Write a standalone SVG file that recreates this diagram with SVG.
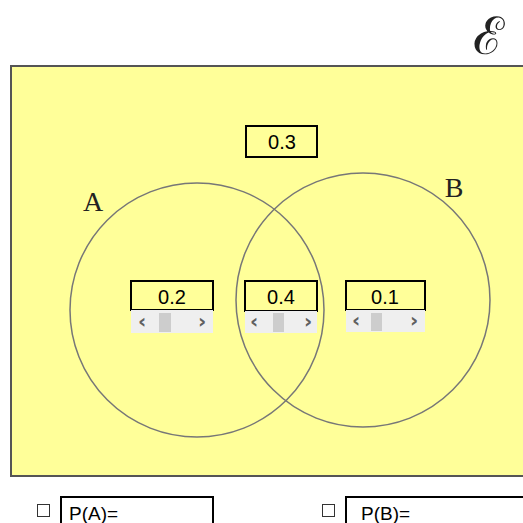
<svg xmlns="http://www.w3.org/2000/svg" width="523" height="523" viewBox="0 0 523 523">
<style>
.box{fill:#ffff99;stroke:#000;stroke-width:2}
.num{font-family:"Liberation Sans",Arial,sans-serif;font-size:20px;fill:#000;text-anchor:middle}
.sb{fill:#efefef}
.th{fill:#cdcdcd}
.ar{font-family:"DejaVu Sans",sans-serif;font-size:20px;fill:#606060;text-anchor:middle;font-weight:bold}
.circ{fill:none;stroke:#777;stroke-width:1.5}
.lbl{font-family:"Liberation Serif","Times New Roman",serif;font-size:28px;fill:#222}
.cb{fill:#fff;stroke:#333;stroke-width:1}
.pbox{fill:#fff;stroke:#000;stroke-width:2}
.ptxt{font-family:"Liberation Sans",Arial,sans-serif;font-size:19px;fill:#000}
</style>
<rect width="523" height="523" fill="#fff"/>
<text x="488" y="54" font-family="DejaVu Serif, serif" font-size="52" fill="#222" text-anchor="middle">ℰ</text>
<rect x="11" y="66" width="520" height="410" fill="#ffff99" stroke="#555" stroke-width="2"/>
<g id="circles">
<circle id="circleA" class="circ" cx="197" cy="310" r="127"/>
<circle id="circleB" class="circ" cx="363" cy="300" r="127"/>
</g>
<g id="labelA"><text class="lbl" x="93" y="211" text-anchor="middle">A</text></g>
<g id="labelB"><text class="lbl" x="454" y="197" text-anchor="middle">B</text></g>
<g id="outside">
<rect class="box" x="246" y="126" width="71" height="31"/>
<text class="num" x="282" y="149">0.3</text>
</g>
<g id="onlyA">
<rect class="box" x="131" y="281" width="82" height="29"/>
<text class="num" x="172" y="304">0.2</text>
<rect class="sb" x="131" y="310" width="82" height="23"/>
<rect class="th" x="159" y="313" width="12" height="19"/>
<text class="ar" x="142" y="328">‹</text>
<text class="ar" x="202" y="328">›</text>
</g>
<g id="both">
<rect class="box" x="245" y="281" width="72" height="30"/>
<text class="num" x="281" y="304">0.4</text>
<rect class="sb" x="245" y="311" width="72" height="22"/>
<rect class="th" x="273" y="313" width="11" height="19"/>
<text class="ar" x="254" y="328">‹</text>
<text class="ar" x="308" y="328">›</text>
</g>
<g id="onlyB">
<rect class="box" x="346" y="281" width="79" height="29"/>
<text class="num" x="385" y="304">0.1</text>
<rect class="sb" x="346" y="310" width="79" height="22"/>
<rect class="th" x="371" y="313" width="11" height="18"/>
<text class="ar" x="356" y="327">‹</text>
<text class="ar" x="414" y="327">›</text>
</g>
<g id="pA">
<rect class="cb" x="37.5" y="504.5" width="12" height="12"/>
<rect class="pbox" x="61" y="497" width="152" height="40"/>
<text class="ptxt" x="69" y="520">P(A)=</text>
</g>
<g id="pB">
<rect class="cb" x="322.5" y="504.5" width="12" height="12"/>
<rect class="pbox" x="346" y="497" width="190" height="40"/>
<text class="ptxt" x="361" y="520">P(B)=</text>
</g>
</svg>
